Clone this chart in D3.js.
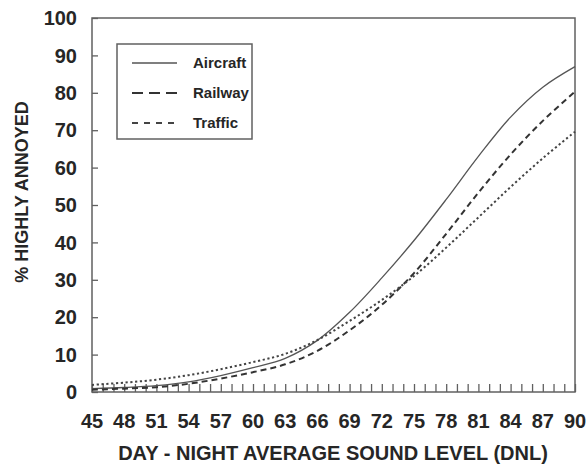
<!DOCTYPE html>
<html><head><meta charset="utf-8">
<script src="https://cdn.jsdelivr.net/npm/d3@7"></script>
<style>body{margin:0;background:#fff}svg{display:block}</style>
</head><body>
<script>
const levels   = [45,48,51,54,57,60,63,66,69,72,75,78,81,84,87,90];
const aircraft = [0.9,1.2,1.7,2.7,4.4,6.5,9.0,13.8,21.3,30.5,40.5,51.5,63,73.5,81.5,87];
const railway  = [0.6,0.9,1.3,2.2,3.6,5.3,7.4,11.0,16.5,23.3,31.8,42.3,53.3,63.5,72.5,80.3];
const traffic  = [1.9,2.5,3.3,4.5,6.1,8.0,10.2,13.9,19,24.6,31,38.6,46.7,54.8,62.5,69.6];
const xTickLabels = [45,48,51,54,57,60,63,66,69,72,75,78,81,84,87,90];
const yTickLabels = [0,10,20,30,40,50,60,70,80,90,100];
const seriesNames = ["Aircraft","Railway","Traffic"];

const W=586,H=467;
const m={l:92,r:575,t:18,b:392};
const svg=d3.select("body").append("svg").attr("width",W).attr("height",H);
const x=d3.scaleLinear().domain([45,90]).range([m.l,m.r]);
const y=d3.scaleLinear().domain([0,100]).range([m.b,m.t]);
const font="'Liberation Sans',Arial,sans-serif";
const frameCol="#606060", txt="#262626";

// frame
svg.append("rect").attr("x",m.l).attr("y",m.t).attr("width",m.r-m.l).attr("height",m.b-m.t)
  .attr("fill","none").attr("stroke",frameCol).attr("stroke-width",1.5);

// x axis: inward ticks every 1 unit
const xa=svg.append("g").attr("transform",`translate(0,${m.b})`)
  .call(d3.axisBottom(x).tickValues(d3.range(45,91,1)).tickSize(-8).tickFormat(""));
xa.select(".domain").remove();
xa.selectAll("line").attr("stroke",frameCol).attr("stroke-width",1.3);
svg.append("g").selectAll("text").data(xTickLabels).join("text")
  .attr("x",d=>x(d)).attr("y",428).attr("text-anchor","middle")
  .attr("font-family",font).attr("font-weight","bold").attr("font-size",20).attr("fill",txt)
  .text(d=>d);

// y axis: inward ticks
const ya=svg.append("g").attr("transform",`translate(${m.l},0)`)
  .call(d3.axisLeft(y).tickValues(yTickLabels).tickSize(-6).tickFormat(""));
ya.select(".domain").remove();
ya.selectAll("line").attr("stroke",frameCol).attr("stroke-width",1.3);
svg.append("g").selectAll("text").data(yTickLabels).join("text")
  .attr("x",77).attr("y",d=>y(d)).attr("dy","0.36em").attr("text-anchor","end")
  .attr("font-family",font).attr("font-weight","bold").attr("font-size",20).attr("fill",txt)
  .text(d=>d);

// titles
svg.append("text").attr("x",333).attr("y",460).attr("text-anchor","middle")
  .attr("font-family",font).attr("font-weight","bold").attr("font-size",20).attr("fill",txt)
  .text("DAY - NIGHT AVERAGE SOUND LEVEL (DNL)");
svg.append("text").attr("transform","translate(28,192) rotate(-90)").attr("text-anchor","middle")
  .attr("font-family",font).attr("font-weight","bold").attr("font-size",18).attr("fill",txt)
  .text("% HIGHLY ANNOYED");

// curves
const line=d3.line().x(d=>x(d[0])).y(d=>y(d[1])).curve(d3.curveCatmullRom.alpha(0.5));
const styles=[
  {vals:aircraft,w:1.3,dash:null,col:"#555"},
  {vals:railway,w:2,dash:"6,4",col:"#333"},
  {vals:traffic,w:2,dash:"2.2,2.6",col:"#444"}
];
styles.forEach(s=>{
  svg.append("path").datum(levels.map((l,i)=>[l,s.vals[i]]))
    .attr("d",line).attr("fill","none").attr("stroke",s.col).attr("stroke-width",s.w)
    .attr("stroke-dasharray",s.dash);
});

// legend
const lg=svg.append("g");
lg.append("rect").attr("x",117).attr("y",44).attr("width",135).attr("height",95)
  .attr("fill","#fff").attr("stroke",frameCol).attr("stroke-width",1.5);
const legDash=[null,"11,6","6,6"];
seriesNames.forEach((n,i)=>{
  const yy=63+i*30;
  lg.append("line").attr("x1",132).attr("x2",177).attr("y1",yy).attr("y2",yy)
    .attr("stroke",styles[i].col).attr("stroke-width",i===0?1.6:2).attr("stroke-dasharray",legDash[i]);
  lg.append("text").attr("x",193).attr("y",yy).attr("dy","0.36em")
    .attr("font-family",font).attr("font-weight","bold").attr("font-size",15).attr("fill",txt).text(n);
});
</script>
</body></html>
